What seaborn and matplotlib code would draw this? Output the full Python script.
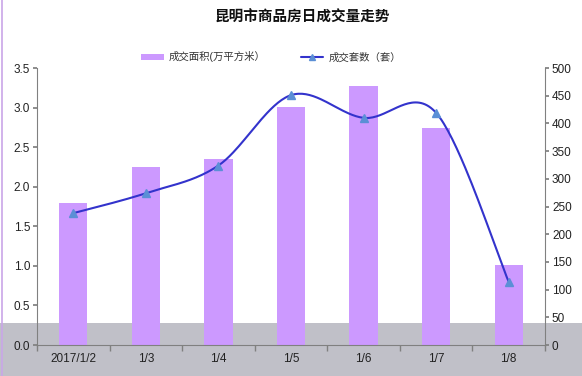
import numpy as np
import pandas as pd
import matplotlib
matplotlib.use("Agg")
import matplotlib.pyplot as plt
import seaborn as sns
from matplotlib.patches import Rectangle
from matplotlib.lines import Line2D

categories = ["2017/1/2", "1/3", "1/4", "1/5", "1/6", "1/7", "1/8"]
area = [1.80, 2.25, 2.35, 3.01, 3.27, 2.74, 1.01]
units = [238, 274, 324, 451, 410, 419, 114]
title = "昆明市商品房日成交量走势"
area_label = "成交面积(万平方米）"
units_label = "成交套数（套）"

sns.set_theme(style="white")
plt.rcParams['font.family'] = ['Liberation Sans', 'Noto Sans CJK SC', 'DejaVu Sans']

W, H = 582, 376
fig = plt.figure(figsize=(W / 100, H / 100), dpi=100)
fig.patch.set_facecolor("white")
fig.add_artist(Rectangle((0, 0), 1, 53 / H, transform=fig.transFigure,
                         facecolor="#C0C0C8", edgecolor="none", zorder=-5))
fig.add_artist(Line2D([1.5 / W, 1.5 / W], [0, 1], transform=fig.transFigure,
                      color="#C9A6E8", lw=1.2, zorder=-4))

ax = fig.add_axes([37 / W, (H - 345) / H, (545 - 37) / W, (345 - 68) / H])
ax.patch.set_alpha(0)
df = pd.DataFrame({"date": categories, "area": area, "units": units})
sns.barplot(data=df, x="date", y="area", color="#CC99FF", saturation=1,
            width=0.39, ax=ax, zorder=2, linewidth=0, edgecolor="none")
ax.set_xlim(-0.5, len(categories) - 0.5)
ax.set_ylim(0, 3.5)
ax.set_yticks(np.arange(0, 3.51, 0.5))
ax.set_yticklabels([f"{v:.1f}" for v in np.arange(0, 3.51, 0.5)])
ax.set_xlabel("")
ax.set_ylabel("")
ax.set_xticks(range(len(categories)))
ax.set_xticklabels(categories)
ax.set_xticks(np.arange(-0.5, len(categories) + 0.5, 1), minor=True)
ax.tick_params(axis="x", which="major", length=0, pad=6, labelsize=8.5, colors="#222222")
ax.tick_params(axis="x", which="minor", length=4, color="#808080", direction="out", bottom=True)
ax.tick_params(axis="y", length=3, color="#808080", direction="out", left=True,
               labelsize=8.5, colors="#222222", pad=2)
for s in ["left", "bottom"]:
    ax.spines[s].set_color("#808080")
    ax.spines[s].set_linewidth(0.8)
ax.spines["top"].set_visible(False)
ax.spines["right"].set_visible(False)

ax2 = ax.twinx()
ax2.set_ylim(0, 500)
ax2.set_yticks(range(0, 501, 50))
ax2.tick_params(axis="y", length=3, color="#808080", direction="out", right=True,
                labelsize=8.5, colors="#222222", pad=2)
for s in ["left", "top", "bottom"]:
    ax2.spines[s].set_visible(False)
ax2.spines["right"].set_color("#808080")
ax2.spines["right"].set_linewidth(0.8)
ax2.grid(False)
ax.grid(False)

# Smooth (Catmull-Rom Bezier) rendering of the line through the data points
xs = np.arange(len(units), dtype=float)
ys = np.array(units, dtype=float)
px, py = [], []
t = np.linspace(0, 1, 40)
for i in range(len(xs) - 1):
    p0 = (xs[max(i - 1, 0)], ys[max(i - 1, 0)])
    p1 = (xs[i], ys[i])
    p2 = (xs[i + 1], ys[i + 1])
    p3 = (xs[min(i + 2, len(xs) - 1)], ys[min(i + 2, len(xs) - 1)])
    c1 = (p1[0] + (p2[0] - p0[0]) / 6, p1[1] + (p2[1] - p0[1]) / 6)
    c2 = (p2[0] - (p3[0] - p1[0]) / 6, p2[1] - (p3[1] - p1[1]) / 6)
    bx = (1 - t) ** 3 * p1[0] + 3 * (1 - t) ** 2 * t * c1[0] + 3 * (1 - t) * t ** 2 * c2[0] + t ** 3 * p2[0]
    by = (1 - t) ** 3 * p1[1] + 3 * (1 - t) ** 2 * t * c1[1] + 3 * (1 - t) * t ** 2 * c2[1] + t ** 3 * p2[1]
    px.extend(bx)
    py.extend(by)
ax2.plot(px, py, color="#3333CC", lw=1.5, zorder=3)
ax2.plot(xs, ys, linestyle="none", marker="^", markersize=6, color="#5B8FD6",
         markeredgecolor="#5B8FD6", zorder=4)

fig.text(302 / W, 1 - 18 / H, title, ha="center", va="center", fontsize=10.5,
         fontweight="bold", color="#111111")
handles = [Rectangle((0, 0), 1, 1, facecolor="#CC99FF", edgecolor="none"),
           Line2D([], [], color="#3333CC", lw=1.5, marker="^", markersize=5,
                  markerfacecolor="#5B8FD6", markeredgecolor="#5B8FD6")]
fig.legend(handles, [area_label, units_label], loc="center",
           bbox_to_anchor=(271 / W, 1 - 57 / H), ncol=2, frameon=False,
           fontsize=7.5, columnspacing=3.35, handlelength=2.2, handleheight=0.6,
           handletextpad=0.5, labelcolor="#333333")

fig.savefig("out.png", dpi=100)
